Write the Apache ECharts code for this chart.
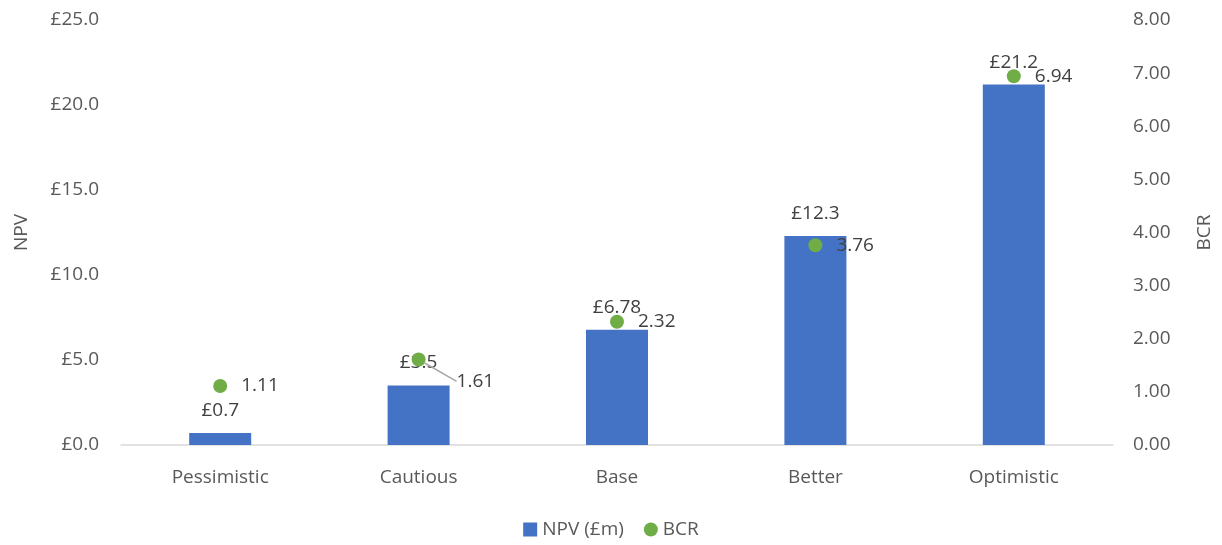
<!DOCTYPE html>
<html><head><meta charset="utf-8">
<script src="https://cdn.jsdelivr.net/npm/echarts@6/dist/echarts.min.js"></script>
<style>html,body{margin:0;padding:0;background:#fff}#c{width:1222px;height:545px}</style>
</head><body><div id="c"></div>
<script>
const categories = ['Pessimistic', 'Cautious', 'Base', 'Better', 'Optimistic'];
const npv = [0.7, 3.5, 6.78, 12.3, 21.2];
const npvLabels = ['£0.7', '£3.5', '£6.78', '£12.3', '£21.2'];
const bcr = [1.11, 1.61, 2.32, 3.76, 6.94];

const FONT = '"Open Sans", "Noto Sans", sans-serif';
const FS = 19;
const chart = echarts.init(document.getElementById('c'));
chart.setOption({
  animation: false,
  textStyle: { fontFamily: FONT },
  grid: { left: 121, right: 107, top: 20, bottom: 100 },
  legend: {
    bottom: 1, left: 'center', itemGap: 20, itemWidth: 14, itemHeight: 14,
    textStyle: { fontSize: FS, color: '#595959', fontFamily: FONT },
    data: [{ name: 'NPV (£m)', icon: 'rect' }, { name: 'BCR', icon: 'circle' }]
  },
  xAxis: {
    type: 'category', data: categories,
    axisLine: { lineStyle: { color: '#d9d9d9', width: 1.5 } },
    axisTick: { show: false },
    axisLabel: { fontSize: FS, color: '#595959', margin: 23, fontFamily: FONT }
  },
  yAxis: [{
    type: 'value', min: 0, max: 25, interval: 5,
    name: 'NPV', nameLocation: 'middle', nameGap: 90,
    nameTextStyle: { fontSize: FS, color: '#595959', fontFamily: FONT },
    splitLine: { show: false },
    axisLabel: { fontSize: FS, color: '#595959', margin: 22, fontFamily: FONT,
      formatter: v => '£' + v.toFixed(1) }
  }, {
    type: 'value', min: 0, max: 8, interval: 1,
    name: 'BCR', nameLocation: 'middle', nameGap: 82, nameRotate: 90,
    nameTextStyle: { fontSize: FS, color: '#595959', fontFamily: FONT },
    splitLine: { show: false },
    axisLabel: { fontSize: FS, color: '#595959', margin: 20, fontFamily: FONT,
      formatter: v => v.toFixed(2) }
  }],
  series: [{
    name: 'NPV (£m)', type: 'bar', data: npv, barWidth: 62, yAxisIndex: 0,
    itemStyle: { color: '#4472C4' },
    label: { show: true, position: 'top', distance: 13, fontSize: FS, color: '#404040',
      fontFamily: FONT, formatter: p => npvLabels[p.dataIndex] }
  }, {
    name: 'BCR', type: 'scatter', yAxisIndex: 1, symbolSize: 14,
    data: bcr.map((v, i) => ({ value: v, labelLine: { show: i === 1 } })),
    itemStyle: { color: '#70AD47', opacity: 1 }, z: 5,
    label: { show: true, position: 'right', distance: 14, fontSize: FS, color: '#404040',
      fontFamily: FONT, formatter: p => p.value.toFixed(2) },
    labelLine: { lineStyle: { color: '#a6a6a6', width: 1.5 } },
    labelLayout: p => p.dataIndex === 1 ? { dx: 17, dy: 22 } : {}
  }]
});
</script></body></html>
